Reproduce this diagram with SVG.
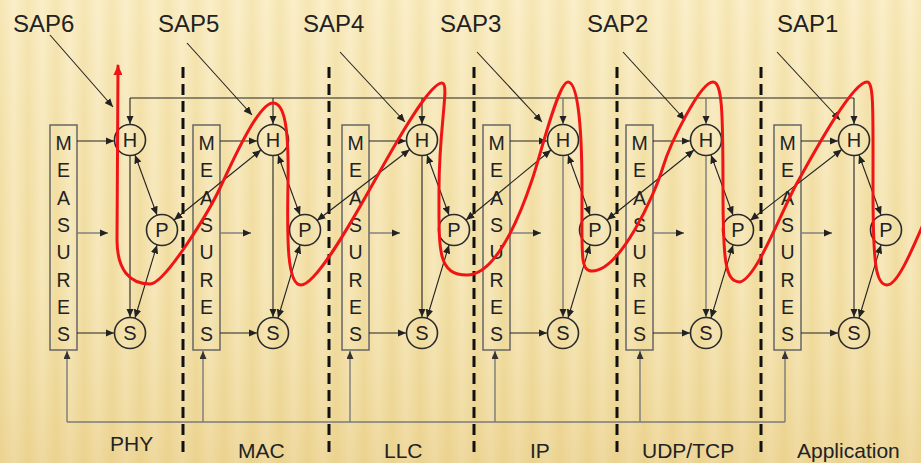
<svg xmlns="http://www.w3.org/2000/svg" width="921" height="463" viewBox="0 0 921 463">
<style>
.lbl{font-family:"Liberation Sans",Arial,sans-serif;fill:#222}
.sap{font-size:24px}
.layer{font-size:21px}
.meas{font-size:19.5px;text-anchor:middle}
.nodeTxt{font-family:"Liberation Sans",Arial,sans-serif;font-size:20px;fill:#222;text-anchor:middle}
.box{fill:none;stroke:#666;stroke-width:1.5}
.circ{fill:none;stroke:#2a2a2a;stroke-width:1.6}
.ln{fill:none;stroke:#222;stroke-width:1.1}
.gl{fill:none;stroke:#7a7a7a;stroke-width:1.4}
.dash{fill:none;stroke:#111;stroke-width:3;stroke-dasharray:11 6}
.red{fill:none;stroke:#f01414;stroke-width:3;stroke-linecap:round;stroke-linejoin:round}
</style>
<defs>
<linearGradient id="stripe" x1="0" y1="0" x2="1" y2="0">
<stop offset="0" stop-color="#f2dfa4"/>
<stop offset="0.5" stop-color="#f9ecc4"/>
<stop offset="1" stop-color="#f2dfa4"/>
</linearGradient>
<pattern id="bg" x="0" y="0" width="28" height="463" patternUnits="userSpaceOnUse">
<rect width="28" height="463" fill="url(#stripe)"/>
</pattern>
<linearGradient id="shade" x1="0" y1="0" x2="0" y2="1">
<stop offset="0" stop-color="#fff6d8" stop-opacity="0.3"/>
<stop offset="0.6" stop-color="#e9cf86" stop-opacity="0.15"/>
<stop offset="1" stop-color="#e2c274" stop-opacity="0.45"/>
</linearGradient>
<marker id="ah" viewBox="0 0 8 7" refX="8" refY="3.5" markerWidth="8.5" markerHeight="7.5" markerUnits="userSpaceOnUse" orient="auto-start-reverse">
<path d="M0,0 L8,3.5 L0,7 z" fill="#222"/>
</marker>
<marker id="ahg" viewBox="0 0 8 7" refX="8" refY="3.5" markerWidth="8" markerHeight="7" markerUnits="userSpaceOnUse" orient="auto-start-reverse">
<path d="M0,0 L8,3.5 L0,7 z" fill="#333"/>
</marker>
<marker id="ahr" viewBox="0 0 10 9" refX="9" refY="4.5" markerWidth="10" markerHeight="9" markerUnits="userSpaceOnUse" orient="auto-start-reverse">
<path d="M0,0 L10,4.5 L0,9 z" fill="#f01414"/>
</marker>
</defs>

<rect width="921" height="463" fill="url(#bg)"/>
<rect width="921" height="463" fill="url(#shade)"/>

<!-- layer separators -->
<g id="separators">
<line class="dash" x1="183" y1="67" x2="183" y2="458"/>
<line class="dash" x1="329" y1="67" x2="329" y2="458"/>
<line class="dash" x1="474" y1="67" x2="474" y2="458"/>
<line class="dash" x1="617" y1="67" x2="617" y2="458"/>
<line class="dash" x1="761" y1="67" x2="761" y2="458"/>
</g>

<!-- labels -->
<g id="sap-labels" class="lbl sap">
<text x="13" y="32">SAP6</text>
<text x="158" y="32">SAP5</text>
<text x="303" y="32">SAP4</text>
<text x="440" y="32">SAP3</text>
<text x="587" y="32">SAP2</text>
<text x="777" y="32">SAP1</text>
</g>
<g id="layer-labels" class="lbl layer">
<text x="110" y="451">PHY</text>
<text x="238" y="458">MAC</text>
<text x="384" y="458">LLC</text>
<text x="530" y="458">IP</text>
<text x="642" y="458">UDP/TCP</text>
<text x="797" y="458">Application</text>
</g>

<!-- nodes -->
<g id="m1" transform="translate(0,0)"><rect class="box" x="50" y="125" width="27" height="225"/><text class="lbl meas"><tspan x="63.5" y="150">M</tspan><tspan x="63.5" y="177">E</tspan><tspan x="63.5" y="205">A</tspan><tspan x="63.5" y="232">S</tspan><tspan x="63.5" y="259">U</tspan><tspan x="63.5" y="287">R</tspan><tspan x="63.5" y="314">E</tspan><tspan x="63.5" y="341">S</tspan></text></g>
<g id="h1"><circle class="circ" cx="130" cy="140" r="15.5"/><text class="nodeTxt" x="130" y="147">H</text></g>
<g id="p1"><circle class="circ" cx="162" cy="230" r="15.5"/><text class="nodeTxt" x="162" y="237">P</text></g>
<g id="s1"><circle class="circ" cx="130" cy="333" r="15.5"/><text class="nodeTxt" x="130" y="340">S</text></g>

<g id="m2" transform="translate(143,0)"><rect class="box" x="50" y="125" width="27" height="225"/><text class="lbl meas"><tspan x="63.5" y="150">M</tspan><tspan x="63.5" y="177">E</tspan><tspan x="63.5" y="205">A</tspan><tspan x="63.5" y="232">S</tspan><tspan x="63.5" y="259">U</tspan><tspan x="63.5" y="287">R</tspan><tspan x="63.5" y="314">E</tspan><tspan x="63.5" y="341">S</tspan></text></g>
<g id="h2"><circle class="circ" cx="273" cy="140" r="15.5"/><text class="nodeTxt" x="273" y="147">H</text></g>
<g id="p2"><circle class="circ" cx="305" cy="230" r="15.5"/><text class="nodeTxt" x="305" y="237">P</text></g>
<g id="s2"><circle class="circ" cx="273" cy="333" r="15.5"/><text class="nodeTxt" x="273" y="340">S</text></g>

<g id="m3" transform="translate(292,0)"><rect class="box" x="50" y="125" width="27" height="225"/><text class="lbl meas"><tspan x="63.5" y="150">M</tspan><tspan x="63.5" y="177">E</tspan><tspan x="63.5" y="205">A</tspan><tspan x="63.5" y="232">S</tspan><tspan x="63.5" y="259">U</tspan><tspan x="63.5" y="287">R</tspan><tspan x="63.5" y="314">E</tspan><tspan x="63.5" y="341">S</tspan></text></g>
<g id="h3"><circle class="circ" cx="422" cy="140" r="15.5"/><text class="nodeTxt" x="422" y="147">H</text></g>
<g id="p3"><circle class="circ" cx="454" cy="230" r="15.5"/><text class="nodeTxt" x="454" y="237">P</text></g>
<g id="s3"><circle class="circ" cx="422" cy="333" r="15.5"/><text class="nodeTxt" x="422" y="340">S</text></g>

<g id="m4" transform="translate(433,0)"><rect class="box" x="50" y="125" width="27" height="225"/><text class="lbl meas"><tspan x="63.5" y="150">M</tspan><tspan x="63.5" y="177">E</tspan><tspan x="63.5" y="205">A</tspan><tspan x="63.5" y="232">S</tspan><tspan x="63.5" y="259">U</tspan><tspan x="63.5" y="287">R</tspan><tspan x="63.5" y="314">E</tspan><tspan x="63.5" y="341">S</tspan></text></g>
<g id="h4"><circle class="circ" cx="563" cy="140" r="15.5"/><text class="nodeTxt" x="563" y="147">H</text></g>
<g id="p4"><circle class="circ" cx="595" cy="230" r="15.5"/><text class="nodeTxt" x="595" y="237">P</text></g>
<g id="s4"><circle class="circ" cx="563" cy="333" r="15.5"/><text class="nodeTxt" x="563" y="340">S</text></g>

<g id="m5" transform="translate(576,0)"><rect class="box" x="50" y="125" width="27" height="225"/><text class="lbl meas"><tspan x="63.5" y="150">M</tspan><tspan x="63.5" y="177">E</tspan><tspan x="63.5" y="205">A</tspan><tspan x="63.5" y="232">S</tspan><tspan x="63.5" y="259">U</tspan><tspan x="63.5" y="287">R</tspan><tspan x="63.5" y="314">E</tspan><tspan x="63.5" y="341">S</tspan></text></g>
<g id="h5"><circle class="circ" cx="706" cy="140" r="15.5"/><text class="nodeTxt" x="706" y="147">H</text></g>
<g id="p5"><circle class="circ" cx="738" cy="230" r="15.5"/><text class="nodeTxt" x="738" y="237">P</text></g>
<g id="s5"><circle class="circ" cx="706" cy="333" r="15.5"/><text class="nodeTxt" x="706" y="340">S</text></g>

<g id="m6" transform="translate(724,0)"><rect class="box" x="50" y="125" width="27" height="225"/><text class="lbl meas"><tspan x="63.5" y="150">M</tspan><tspan x="63.5" y="177">E</tspan><tspan x="63.5" y="205">A</tspan><tspan x="63.5" y="232">S</tspan><tspan x="63.5" y="259">U</tspan><tspan x="63.5" y="287">R</tspan><tspan x="63.5" y="314">E</tspan><tspan x="63.5" y="341">S</tspan></text></g>
<g id="h6"><circle class="circ" cx="854" cy="140" r="15.5"/><text class="nodeTxt" x="854" y="147">H</text></g>
<g id="p6"><circle class="circ" cx="886" cy="230" r="15.5"/><text class="nodeTxt" x="886" y="237">P</text></g>
<g id="s6"><circle class="circ" cx="854" cy="333" r="15.5"/><text class="nodeTxt" x="854" y="340">S</text></g>

<!-- connectors -->
<g id="connectors">
<path class="ln" d="M130,98 H854"/>
<path class="ln" marker-end="url(#ah)" d="M130,98 V124"/>
<path class="ln" marker-end="url(#ah)" d="M273,98 V124"/>
<path class="ln" marker-end="url(#ah)" d="M422,98 V124"/>
<path class="gl" marker-end="url(#ah)" d="M563,98 V124"/>
<path class="gl" marker-end="url(#ah)" d="M706,98 V124"/>
<path class="ln" marker-end="url(#ah)" d="M854,98 V124"/>
<path class="gl" d="M67,422 H785"/>
<path class="gl" marker-end="url(#ahg)" d="M67,422 V351"/>
<path class="gl" marker-end="url(#ahg)" d="M203,422 V351"/>
<path class="gl" marker-end="url(#ahg)" d="M350,422 V351"/>
<path class="gl" marker-end="url(#ahg)" d="M495,422 V351"/>
<path class="gl" marker-end="url(#ahg)" d="M640,422 V351"/>
<path class="gl" marker-end="url(#ahg)" d="M785,422 V351"/>
<path class="ln" marker-end="url(#ah)" d="M50,35 L113,107"/>
<path class="ln" marker-end="url(#ah)" d="M187,43 L252,115"/>
<path class="ln" marker-end="url(#ah)" d="M340,52 L405,122"/>
<path class="ln" marker-end="url(#ah)" d="M477,52 L542,122"/>
<path class="ln" marker-end="url(#ah)" d="M623,52 L685,120"/>
<path class="ln" marker-end="url(#ah)" d="M777,52 L840,120"/>
<path class="ln" marker-end="url(#ah)" d="M77,141 H114"/>
<path class="gl" marker-end="url(#ah)" d="M77,233 H108"/>
<path class="ln" marker-end="url(#ah)" d="M77,333 H114"/>
<path class="ln" marker-end="url(#ah)" d="M130,156 V317"/>
<path class="ln" marker-start="url(#ah)" marker-end="url(#ah)" d="M135,155 L157,215"/>
<path class="ln" marker-start="url(#ah)" marker-end="url(#ah)" d="M157,245 L135,318"/>
<path class="ln" marker-end="url(#ah)" d="M220,141 H257"/>
<path class="gl" marker-end="url(#ah)" d="M220,233 H251"/>
<path class="ln" marker-end="url(#ah)" d="M220,333 H257"/>
<path class="ln" marker-end="url(#ah)" d="M273,156 V317"/>
<path class="ln" marker-start="url(#ah)" marker-end="url(#ah)" d="M278,155 L300,215"/>
<path class="ln" marker-start="url(#ah)" marker-end="url(#ah)" d="M300,245 L278,318"/>
<path class="ln" marker-end="url(#ah)" d="M369,141 H406"/>
<path class="gl" marker-end="url(#ah)" d="M369,233 H400"/>
<path class="ln" marker-end="url(#ah)" d="M369,333 H406"/>
<path class="ln" marker-end="url(#ah)" d="M422,156 V317"/>
<path class="ln" marker-start="url(#ah)" marker-end="url(#ah)" d="M427,155 L449,215"/>
<path class="ln" marker-start="url(#ah)" marker-end="url(#ah)" d="M449,245 L427,318"/>
<path class="ln" marker-end="url(#ah)" d="M510,141 H547"/>
<path class="gl" marker-end="url(#ah)" d="M510,233 H541"/>
<path class="ln" marker-end="url(#ah)" d="M510,333 H547"/>
<path class="gl" marker-end="url(#ah)" d="M563,156 V317"/>
<path class="ln" marker-start="url(#ah)" marker-end="url(#ah)" d="M568,155 L590,215"/>
<path class="ln" marker-start="url(#ah)" marker-end="url(#ah)" d="M590,245 L568,318"/>
<path class="ln" marker-end="url(#ah)" d="M653,141 H690"/>
<path class="gl" marker-end="url(#ah)" d="M653,233 H684"/>
<path class="ln" marker-end="url(#ah)" d="M653,333 H690"/>
<path class="gl" marker-end="url(#ah)" d="M706,156 V317"/>
<path class="ln" marker-start="url(#ah)" marker-end="url(#ah)" d="M711,155 L733,215"/>
<path class="ln" marker-start="url(#ah)" marker-end="url(#ah)" d="M733,245 L711,318"/>
<path class="ln" marker-end="url(#ah)" d="M801,141 H838"/>
<path class="gl" marker-end="url(#ah)" d="M801,233 H832"/>
<path class="ln" marker-end="url(#ah)" d="M801,333 H838"/>
<path class="ln" marker-end="url(#ah)" d="M854,156 V317"/>
<path class="ln" marker-start="url(#ah)" marker-end="url(#ah)" d="M859,155 L881,215"/>
<path class="ln" marker-start="url(#ah)" marker-end="url(#ah)" d="M881,245 L859,318"/>
<path class="ln" marker-start="url(#ah)" marker-end="url(#ah)" d="M174,220 L261,150"/>
<path class="ln" marker-start="url(#ah)" marker-end="url(#ah)" d="M317,220.5 L409.7,149.5"/>
<path class="ln" marker-start="url(#ah)" marker-end="url(#ah)" d="M466,220 L551,150"/>
<path class="ln" marker-start="url(#ah)" marker-end="url(#ah)" d="M607,220 L694,150"/>
<path class="ln" marker-start="url(#ah)" marker-end="url(#ah)" d="M750.2,220.5 L841.8,149.5"/>
</g>

<path id="trace" class="red" marker-start="url(#ahr)" d="M118,66 L117,240 C117,270 130,284 150,284 C165,284 209.4,210.6 220,188 C230.6,165.4 258,103 273,103 C284,103 289,125 288,183 C287,240 287,285 301,285 C318,285 362.6,201.7 375,180 C387.4,158.3 428,83 442,83 C450,83 439,125 439,190 C439,250 437,275 467,275 C500,275 526,198 532,180 C540.3,156.4 558,82 568,82 C577,82 582,120 582,190 C582,255 580,271 592,271 C620,271 654.4,195.7 663,167 C669.7,144.7 700,82 713,82 C722,82 723,110 723,190 C723,260 725,282 740,282 C757,278 782.3,209.1 797,183 C811.7,156.9 852,82 867,82 C874,82 873,110 873,190 C873,265 876,285 887,285 C897,285 910,255 925,220"/>
</svg>
